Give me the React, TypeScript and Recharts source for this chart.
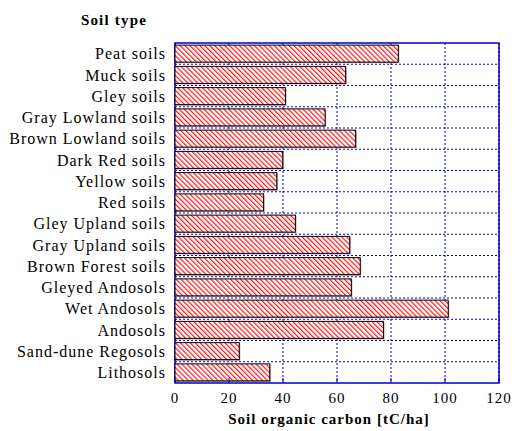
import React from "react";
import {
  BarChart,
  Bar,
  XAxis,
  YAxis,
  CartesianGrid,
  ReferenceArea,
} from "recharts";

const soilTypes = [
  "Peat soils",
  "Muck soils",
  "Gley soils",
  "Gray Lowland soils",
  "Brown Lowland soils",
  "Dark Red soils",
  "Yellow soils",
  "Red soils",
  "Gley Upland soils",
  "Gray Upland soils",
  "Brown Forest soils",
  "Gleyed Andosols",
  "Wet Andosols",
  "Andosols",
  "Sand-dune Regosols",
  "Lithosols",
];

const carbonValues = [
  82.7, 63.2, 40.9, 55.6, 66.9, 39.9, 37.7, 32.8, 44.6, 64.7, 68.6, 65.3,
  101.2, 77.2, 23.8, 35.1,
];

const xTicks = [0, 20, 40, 60, 80, 100, 120];

const data = soilTypes.map((name, i) => ({ name, carbon: carbonValues[i] }));

const FONT = '"Liberation Serif", "Times New Roman", serif';
const BLUE = "#0000cc";

// hatched bar with a thin grey drop shadow, like the original plot
const HatchBar = (props: any) => {
  const { x, y, width, height } = props;
  if (!width || width <= 0) return null;
  return (
    <g>
      <rect x={x + 1} y={y + 1} width={width} height={height} fill="#999" />
      <rect
        x={x}
        y={y}
        width={width}
        height={height}
        fill="url(#hatch)"
        stroke="#000"
        strokeWidth={1}
      />
    </g>
  );
};

export default function App() {
  return (
    <div style={{ position: "absolute", left: 0, top: 0, width: 515, height: 431 }}>
      <BarChart
        width={515}
        height={431}
        data={data}
        layout="vertical"
        margin={{ top: 43, right: 16, bottom: 0, left: 0 }}
        barCategoryGap="10%"
      >
        <defs>
          <pattern
            id="hatch"
            patternUnits="userSpaceOnUse"
            width={3.5}
            height={3.5}
            patternTransform="rotate(-45)"
          >
            <rect width={3.5} height={3.5} fill="#ffffff" />
            <line x1={0.6} y1={0} x2={0.6} y2={3.5} stroke="#ff0000" strokeWidth={1.1} />
          </pattern>
        </defs>

        <text
          x={114}
          y={25}
          textAnchor="middle"
          fontFamily={FONT}
          fontSize={15}
          fontWeight="bold"
          letterSpacing={1.2}
          fill="#000"
        >
          Soil type
        </text>
        <text
          x={329}
          y={424}
          textAnchor="middle"
          fontFamily={FONT}
          fontSize={15}
          fontWeight="bold"
          letterSpacing={1}
          fill="#000"
        >
          Soil organic carbon [tC/ha]
        </text>

        <CartesianGrid
          stroke={BLUE}
          strokeDasharray="2 2"
          horizontalCoordinatesGenerator={({ offset }: any) =>
            soilTypes.slice(1).map(
              (_, i) => offset.top + ((i + 1) * offset.height) / soilTypes.length
            )
          }
        />

        <XAxis
          type="number"
          domain={[0, 120]}
          ticks={xTicks}
          height={48}
          axisLine={false}
          tickLine={{ stroke: BLUE }}
          tickSize={-5}
          tickMargin={14}
          tick={{ fontFamily: FONT, fontSize: 15, fill: "#000", letterSpacing: 1 }}
        />
        <YAxis
          type="category"
          dataKey="name"
          width={175}
          axisLine={false}
          tickLine={false}
          tickSize={6}
          tickMargin={3}
          interval={0}
          tick={{ fontFamily: FONT, fontSize: 16, fill: "#000", letterSpacing: 1 }}
        />

        <Bar
          dataKey="carbon"
          shape={<HatchBar />}
          isAnimationActive={false}
        />

        <ReferenceArea
          x1={0}
          x2={120}
          fill="none"
          fillOpacity={0}
          stroke={BLUE}
          strokeWidth={1.5}
          ifOverflow="visible"
        />
      </BarChart>
    </div>
  );
}
